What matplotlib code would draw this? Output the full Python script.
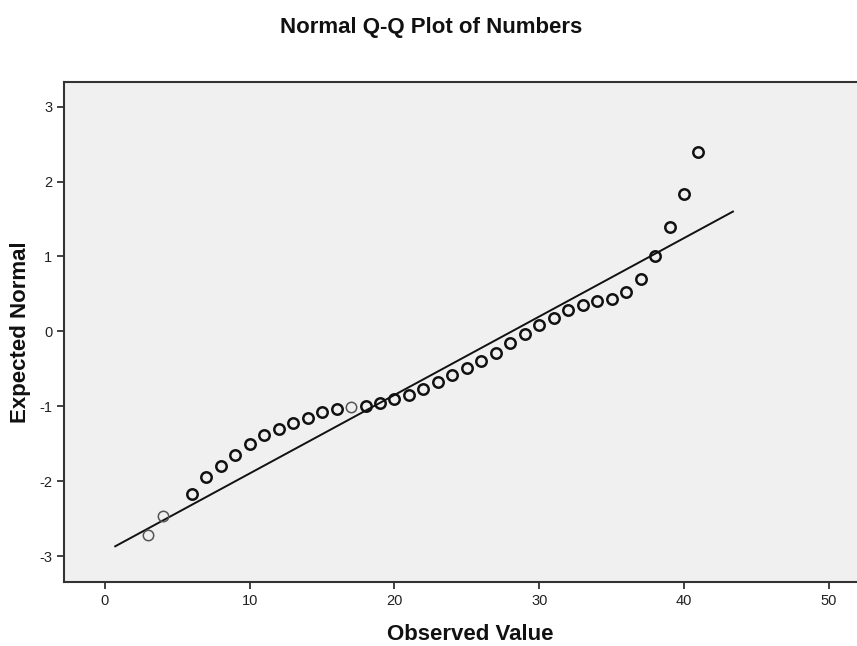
import matplotlib
matplotlib.use("Agg")
import matplotlib.pyplot as plt
import numpy as np

plt.rcParams['font.family'] = ['Liberation Sans', 'DejaVu Sans']
plt.rcParams['axes.unicode_minus'] = False

observed = [3, 4, 6, 7, 8, 9, 10, 11, 12, 13, 14, 15, 16, 17, 18, 19, 20, 21,
            22, 23, 24, 25, 26, 27, 28, 29, 30, 31, 32, 33, 34, 35, 36, 37, 38,
            39, 40, 41]
expected = [-2.72, -2.47, -2.17, -1.94, -1.80, -1.65, -1.50, -1.38, -1.30,
            -1.22, -1.15, -1.08, -1.04, -1.01, -0.99, -0.95, -0.90, -0.85,
            -0.77, -0.68, -0.58, -0.49, -0.40, -0.29, -0.15, -0.03, 0.08,
            0.18, 0.28, 0.35, 0.40, 0.43, 0.52, 0.70, 1.01, 1.40, 1.83, 2.40]
# values drawn with a light outline (single observations)
light = [3, 4, 17]

# reference line
line_x = [0.71, 43.38]
line_y = [-2.87, 1.60]

xticks = [0, 10, 20, 30, 40, 50]
yticks = [-3, -2, -1, 0, 1, 2, 3]

fig = plt.figure(figsize=(8.57, 6.46), dpi=100)
ax = fig.add_axes([0.075, 0.0995, 0.925, 0.774])
ax.set_facecolor('#f0f0f0')

ax.plot(line_x, line_y, color='#111111', lw=1.4, zorder=2)

for x, y in zip(observed, expected):
    if x in light:
        ax.plot(x, y, 'o', ms=7.5, mfc='none', mec='#555555', mew=1.1, zorder=3)
    else:
        ax.plot(x, y, 'o', ms=7.5, mfc='none', mec='#111111', mew=1.8, zorder=3)

ax.set_xlim(-2.81, 51.95)
ax.set_ylim(-3.343, 3.334)
ax.set_xticks(xticks)
ax.set_yticks(yticks)
ax.tick_params(direction='out', length=5, width=1.3, color='#333333',
               labelsize=10.5, labelcolor='#222222')

for s in ['left', 'bottom', 'top']:
    ax.spines[s].set_linewidth(1.5)
    ax.spines[s].set_color('#333333')
ax.spines['right'].set_visible(False)

fig.text(431 / 857, 1 - 28 / 646, 'Normal Q-Q Plot of Numbers', ha='center',
         va='center', fontsize=16, fontweight='bold', color='#111111')
fig.text(470 / 857, 1 - 635 / 646, 'Observed Value', ha='center', va='center',
         fontsize=16, fontweight='bold', color='#111111')
fig.text(21 / 857, 1 - 332 / 646, 'Expected Normal', ha='center', va='center',
         rotation=90, fontsize=16, fontweight='bold', color='#111111')

fig.savefig('out.png', dpi=100)
